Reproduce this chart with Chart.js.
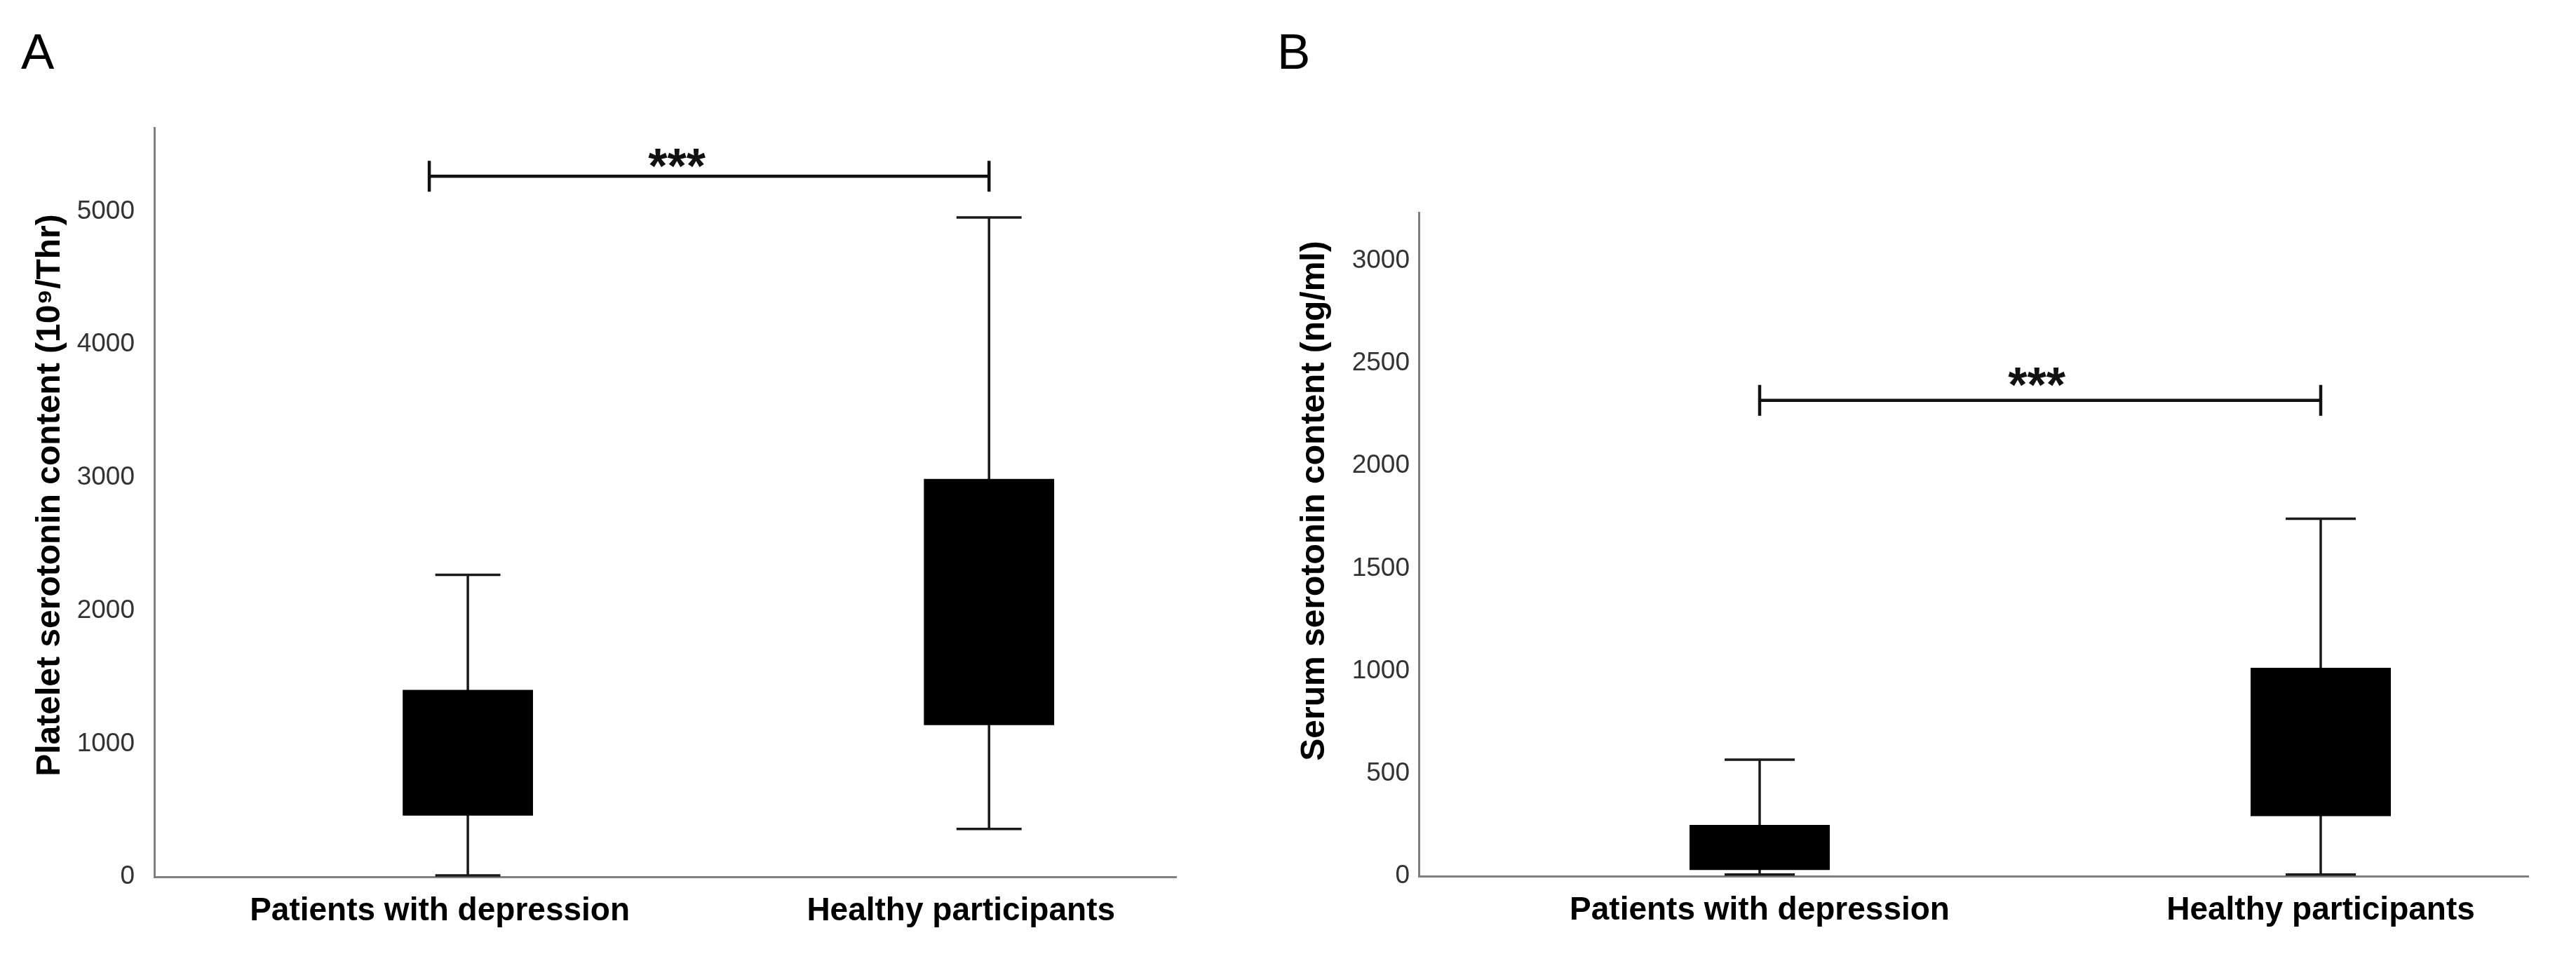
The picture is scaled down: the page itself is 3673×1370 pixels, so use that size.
<!DOCTYPE html>
<html>
<head>
<meta charset="utf-8">
<script src="https://cdn.jsdelivr.net/npm/chart.js@4.4.1/dist/chart.umd.min.js"></script>
<style>
  html, body { margin: 0; padding: 0; background: #fff; }
  body { width: 3673px; height: 1370px; position: relative; overflow: hidden; font-family: "Liberation Sans", Arial, sans-serif; }
  .panel { position: absolute; top: 0; height: 1370px; }
  .letter { position: absolute; font-size: 71px; line-height: 71px; color: #000; font-family: "Liberation Sans", Arial, sans-serif; }
</style>
</head>
<body>
<div class="panel" style="left:0;width:1760px;"><canvas id="chartA" width="1760" height="1370" style="width:1760px;height:1370px;"></canvas></div>
<div class="panel" style="left:1760px;width:1913px;"><canvas id="chartB" width="1913" height="1370" style="width:1913px;height:1370px;"></canvas></div>
<div class="letter" style="left:30px;top:38px;">A</div>
<div class="letter" style="left:1821px;top:38px;">B</div>
<script>
// ---------------- data ----------------
const categories = ['Patients with depression', 'Healthy participants'];

// Panel A: platelet serotonin content (10^9/Thr)
const plateletMin = [10, 360];
const plateletQ1  = [460, 1140];
const plateletQ3  = [1405, 2990];
const plateletMax = [2270, 4955];
const plateletTicks = [0, 1000, 2000, 3000, 4000, 5000];
const plateletAxisMax = 5630;
const plateletBracket = { from: -0.074, to: 1, value: 5265, label: '***', labelAt: 0.401, labelValue: 5427 };

// Panel B: serum serotonin content (ng/ml)
const serumMin = [8, 8];
const serumQ1  = [30, 292];
const serumQ3  = [250, 1016];
const serumMax = [568, 1742];
const serumTicks = [0, 500, 1000, 1500, 2000, 2500, 3000];
const serumAxisMax = 3235;
const serumBracket = { from: 0, to: 1, value: 2319, label: '***', labelAt: 0.494, labelValue: 2449 };

const categoryPositions = [0, 1];

// ---------------- helpers ----------------
const FONT = '"Liberation Sans", Arial, sans-serif';
const CAP_HALF = 0.0625;   // half width of whisker caps, in category units

function boxData(q1, q3) {
  return categoryPositions.map((x, i) => ({ x: x, y: [q1[i], q3[i]] }));
}
function whiskerData(mn, mx) {
  const pts = [];
  categoryPositions.forEach((x, i) => {
    pts.push({ x: x - CAP_HALF, y: mx[i] });
    pts.push({ x: x + CAP_HALF, y: mx[i] });
    pts.push({ x: x, y: mx[i] });
    pts.push({ x: x, y: mn[i] });
    pts.push({ x: x - CAP_HALF, y: mn[i] });
    pts.push({ x: x + CAP_HALF, y: mn[i] });
    pts.push({ x: x, y: null });
  });
  return pts;
}

const bracketPlugin = {
  id: 'sigBracket',
  afterDatasetsDraw(chart, args, opts) {
    const b = opts.bracket;
    if (!b) return;
    const xs = chart.scales.x, ys = chart.scales.y, ctx = chart.ctx;
    const x1 = xs.getPixelForValue(b.from), x2 = xs.getPixelForValue(b.to);
    const y = ys.getPixelForValue(b.value);
    const tick = 22;
    ctx.save();
    ctx.strokeStyle = '#111';
    ctx.lineWidth = 4.5;
    ctx.lineCap = 'butt';
    ctx.beginPath();
    ctx.moveTo(x1, y); ctx.lineTo(x2, y);
    ctx.moveTo(x1, y - tick); ctx.lineTo(x1, y + tick);
    ctx.moveTo(x2, y - tick); ctx.lineTo(x2, y + tick);
    ctx.stroke();
    const fs = 70;
    ctx.font = 'bold ' + fs + 'px ' + FONT;
    ctx.fillStyle = '#111';
    ctx.textAlign = 'center';
    ctx.textBaseline = 'alphabetic';
    ctx.fillText(b.label, xs.getPixelForValue(b.labelAt), ys.getPixelForValue(b.labelValue) + 0.58 * fs);
    ctx.restore();
  }
};

// y-axis title, drawn beside the y axis (vertically shifted like the original figure)
const yTitlePlugin = {
  id: 'yTitle',
  afterDraw(chart, args, opts) {
    if (!opts.text) return;
    const ctx = chart.ctx, ca = chart.chartArea;
    ctx.save();
    ctx.translate(opts.x, (ca.top + ca.bottom) / 2 + opts.shift);
    ctx.rotate(-Math.PI / 2);
    ctx.font = 'bold 48px ' + FONT;
    ctx.fillStyle = '#000';
    ctx.textAlign = 'center';
    ctx.textBaseline = 'middle';
    ctx.fillText(opts.text, 0, 0);
    ctx.restore();
  }
};

function makeChart(id, cfg) {
  return new Chart(document.getElementById(id), {
    data: {
      datasets: [
        {
          type: 'bar',
          data: boxData(cfg.q1, cfg.q3),
          backgroundColor: '#000',
          borderWidth: 0,
          categoryPercentage: 1,
          barPercentage: 0.25,
          order: 1
        },
        {
          type: 'line',
          data: whiskerData(cfg.min, cfg.max),
          borderColor: '#1a1a1a',
          borderWidth: 3.5,
          pointRadius: 0,
          tension: 0,
          spanGaps: false,
          borderJoinStyle: 'bevel',
          borderCapStyle: 'butt',
          fill: false,
          order: 2
        }
      ]
    },
    options: {
      responsive: false,
      animation: false,
      devicePixelRatio: 1,
      layout: { padding: { left: 0, top: cfg.padTop, right: cfg.padRight, bottom: 0 } },
      plugins: {
        legend: { display: false },
        tooltip: { enabled: false },
        sigBracket: { bracket: cfg.bracket },
        yTitle: { text: cfg.title, x: cfg.titleX, shift: cfg.titleShift }
      },
      scales: {
        x: {
          type: 'linear',
          offset: false,
          min: -cfg.leftUnits,
          max: 1 + cfg.rightUnits,
          grid: { display: false, drawTicks: false, offset: false },
          border: { display: true, color: '#7f7f7f', width: 3 },
          afterBuildTicks: (scale) => { scale.ticks = categoryPositions.map(v => ({ value: v })); },
          afterFit: (scale) => { scale.height = cfg.xAxisHeight; },
          ticks: {
            autoSkip: false,
            maxRotation: 0,
            padding: 22,
            labelOffset: cfg.labelOffset,
            color: '#000',
            font: { family: FONT, size: 46, weight: 'bold' },
            callback: (v) => categories[categoryPositions.indexOf(v)]
          }
        },
        y: {
          type: 'linear',
          min: 0,
          max: cfg.axisMax,
          grid: { display: false, drawTicks: false },
          border: { display: true, color: '#7f7f7f', width: 3 },
          afterBuildTicks: (scale) => { scale.ticks = cfg.ticks.map(v => ({ value: v })); },
          afterFit: (scale) => { scale.width = cfg.yAxisWidth; },
          ticks: {
            padding: cfg.tickPad,
            color: '#333',
            font: { family: FONT, size: 37 },
            callback: (v) => String(v)
          },
          title: { display: false }
        }
      }
    },
    plugins: [bracketPlugin, yTitlePlugin]
  });
}

makeChart('chartA', {
  q1: plateletQ1, q3: plateletQ3, min: plateletMin, max: plateletMax,
  ticks: plateletTicks, axisMax: plateletAxisMax, bracket: plateletBracket,
  title: 'Platelet serotonin content (10\u2079/Thr)',
  padTop: 182, padRight: 83, xAxisHeight: 120, yAxisWidth: 220,
  leftUnits: 0.6016, rightUnits: 0.359, tickPad: 28,
  titleX: 72, titleShift: -10, labelOffset: -40
});

makeChart('chartB', {
  q1: serumQ1, q3: serumQ3, min: serumMin, max: serumMax,
  ticks: serumTicks, axisMax: serumAxisMax, bracket: serumBracket,
  title: 'Serum serotonin content (ng/ml)',
  padTop: 303, padRight: 68, xAxisHeight: 121, yAxisWidth: 263,
  leftUnits: 0.6075, rightUnits: 0.37, tickPad: 13,
  titleX: 115, titleShift: -62, labelOffset: 0
});
</script>
</body>
</html>
